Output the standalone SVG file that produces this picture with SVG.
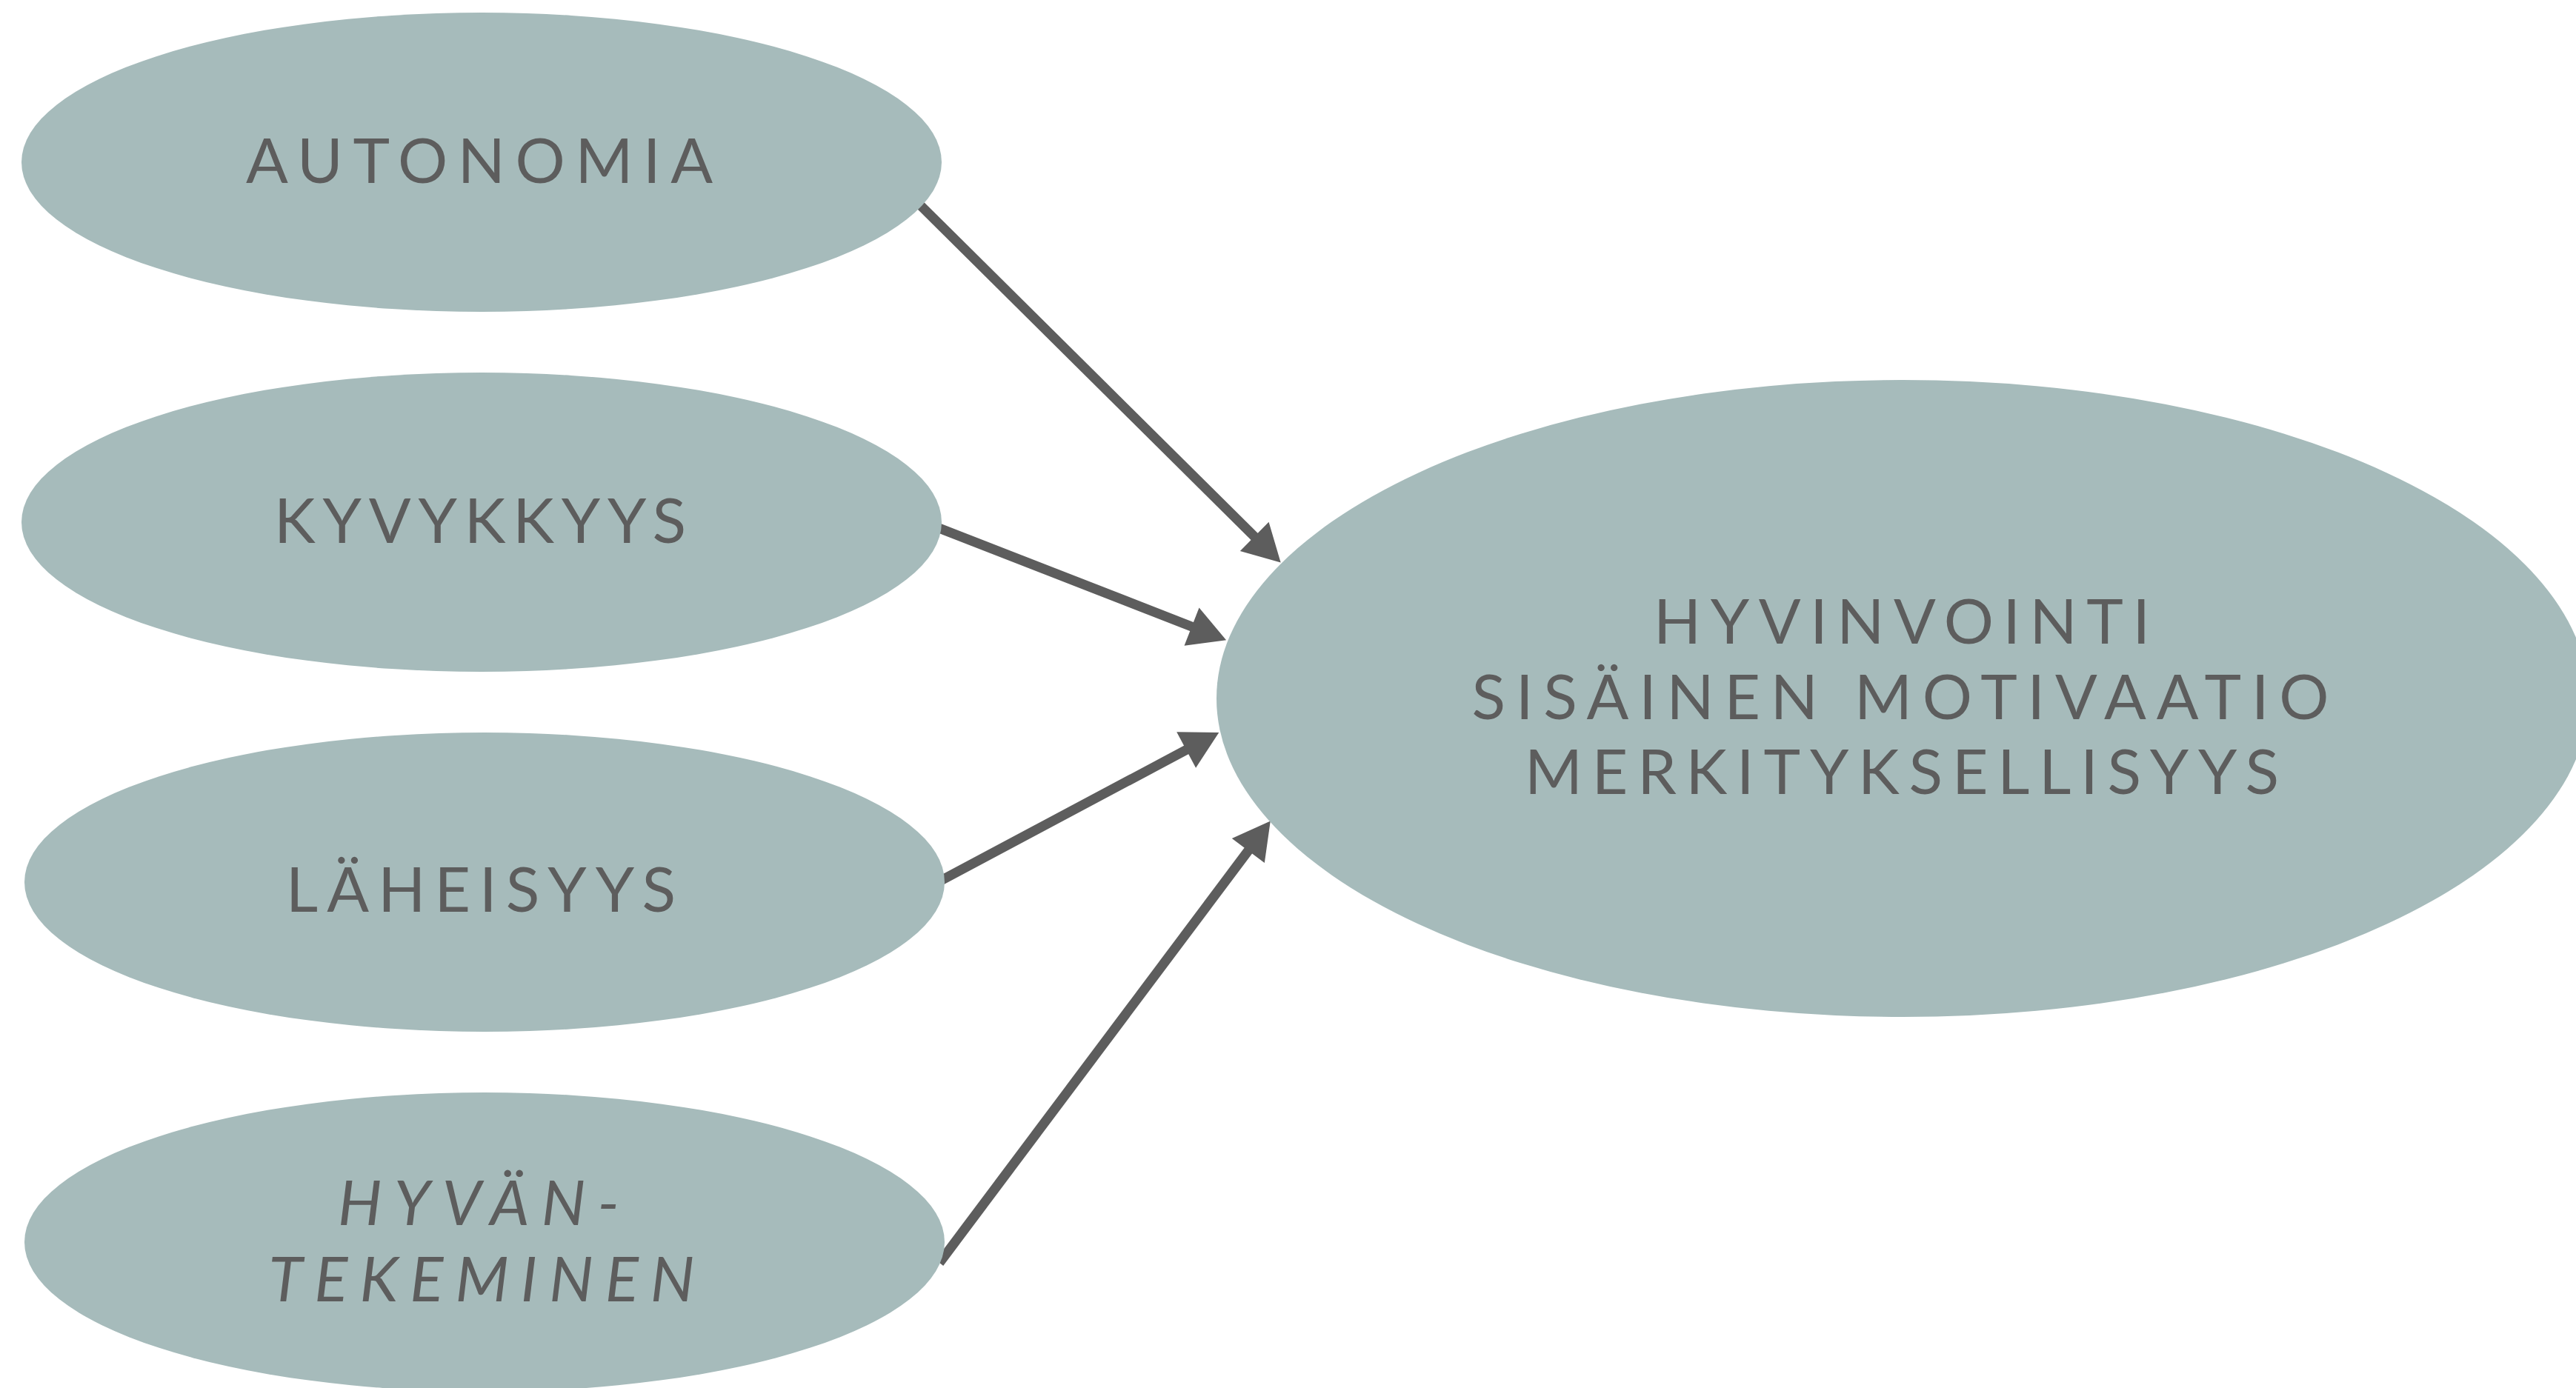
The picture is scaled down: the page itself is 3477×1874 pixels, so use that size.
<svg xmlns="http://www.w3.org/2000/svg" width="3477" height="1874" viewBox="0 0 3477 1874">
  <style>
    .node { fill: #a6bbbb; }
    .lbl { font-family: Lato, "Liberation Sans", sans-serif; font-size: 84px; fill: #5d5d5d; text-anchor: middle; }
    .it { font-style: italic; }
    .conn { stroke: #5d5d5d; stroke-width: 13; fill: none; marker-end: url(#arrow); }
  </style>
  <defs>
    <marker id="arrow" markerUnits="userSpaceOnUse" markerWidth="60" markerHeight="60" viewBox="0 -30 52 60" refX="2" refY="0" orient="auto">
      <path d="M0,-27.5 L50,0 L0,27.5 Z" fill="#5d5d5d"/>
    </marker>
  </defs>
  <rect width="3477" height="1874" fill="#ffffff"/>
  <g id="connectors">
    <line class="conn" x1="1230" y1="265" x2="1694.6" y2="725.8"/>
    <line class="conn" x1="1260" y1="710" x2="1610.4" y2="846.8"/>
    <line class="conn" x1="1266" y1="1191" x2="1602.9" y2="1011.5"/>
    <line class="conn" x1="1268" y1="1705" x2="1686" y2="1147"/>
  </g>
  <g id="autonomia">
    <ellipse class="node" cx="650" cy="219" rx="621" ry="202"/>
    <text class="lbl" x="647" y="247" textLength="630" lengthAdjust="spacing">AUTONOMIA</text>
  </g>
  <g id="kyvykkyys">
    <ellipse class="node" cx="650" cy="705" rx="621" ry="202"/>
    <text class="lbl" x="648" y="733" textLength="556" lengthAdjust="spacing">KYVYKKYYS</text>
  </g>
  <g id="laheisyys">
    <ellipse class="node" cx="654" cy="1191" rx="621" ry="202"/>
    <text class="lbl" x="649" y="1231" textLength="526" lengthAdjust="spacing">LÄHEISYYS</text>
  </g>
  <g id="hyvantekeminen">
    <ellipse class="node" cx="654" cy="1677" rx="621" ry="202"/>
    <text class="lbl it" x="646" y="1654" textLength="380" lengthAdjust="spacing">HYVÄN-</text>
    <text class="lbl it" x="650" y="1757" textLength="575" lengthAdjust="spacing">TEKEMINEN</text>
  </g>
  <g id="hyvinvointi">
    <ellipse class="node" cx="2568" cy="943" rx="926" ry="430"/>
    <text class="lbl" x="2567" y="869" textLength="670" lengthAdjust="spacing">HYVINVOINTI</text>
    <text class="lbl" x="2565" y="971" textLength="1157" lengthAdjust="spacing">SISÄINEN MOTIVAATIO</text>
    <text class="lbl" x="2567" y="1072" textLength="1018" lengthAdjust="spacing">MERKITYKSELLISYYS</text>
  </g>
</svg>
